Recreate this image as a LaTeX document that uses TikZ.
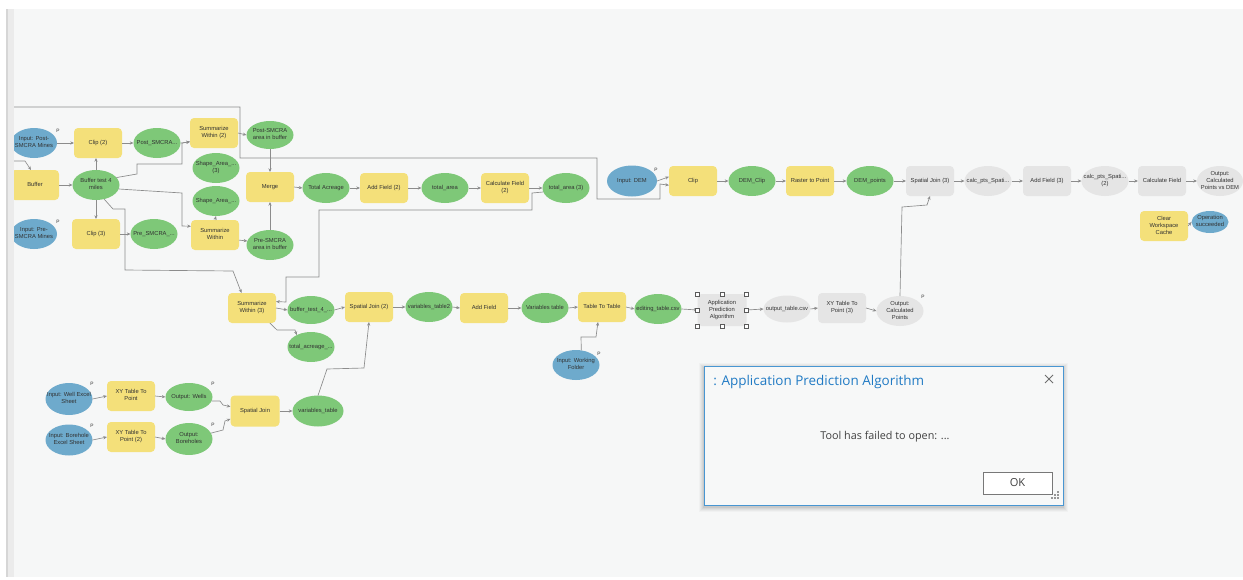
\documentclass[tikz,border=0pt]{standalone}
\usepackage{fontspec}
\setmainfont{Liberation Sans}
\newfontfamily\uifont{Open Sans}
\usetikzlibrary{shapes.geometric,arrows.meta}

\definecolor{panelbg}{RGB}{246,247,247}
\definecolor{stripdark}{RGB}{214,214,214}
\definecolor{striplight}{RGB}{235,235,235}
\definecolor{toolyel}{RGB}{244,224,122}
\definecolor{datagrn}{RGB}{126,200,120}
\definecolor{inblue}{RGB}{110,170,204}
\definecolor{gray1}{RGB}{229,229,229}
\definecolor{txt}{RGB}{50,50,50}
\definecolor{lineg}{RGB}{140,140,140}
\definecolor{handleg}{RGB}{90,90,90}
\definecolor{dlgbg}{RGB}{247,248,248}
\definecolor{dlgblue}{RGB}{72,150,210}
\definecolor{titleblue}{RGB}{32,122,196}
\definecolor{msgc}{RGB}{64,64,64}
\definecolor{okg}{RGB}{120,120,120}
\definecolor{closeg}{RGB}{110,110,110}
\definecolor{gripg}{RGB}{150,150,150}

\newcommand{\nodefnt}{\fontsize{4.35}{5.25}\selectfont}
\newcommand{\pmarkfnt}{\fontsize{3.6}{4}\selectfont}
\newcommand{\ctext}[1]{\makebox[0pt]{\begin{tabular}{@{}c@{}}#1\end{tabular}}}

\tikzset{
  base/.style={inner sep=0pt, outer sep=0pt, font=\nodefnt, text=txt},
  tool/.style={base, rectangle, rounded corners=3pt, fill=toolyel, minimum width=36pt, minimum height=22.5pt},
  gtool/.style={tool, fill=gray1},
  data/.style={base, ellipse, fill=datagrn, minimum width=35.25pt, minimum height=22.5pt},
  gdata/.style={data, fill=gray1},
  inp/.style={data, fill=inblue},
  pmark/.style={font=\pmarkfnt, text=txt, inner sep=0pt},
  conn/.style={draw=lineg, line width=0.5pt, -{Stealth[length=2.8pt,width=2.4pt]}},
  handle/.style={draw=handleg, fill=white, line width=0.4pt},
}

\begin{document}
\begin{tikzpicture}[x=0.75pt,y=-0.75pt]
\useasboundingbox (0,0) rectangle (1243,579);
\fill[white] (0,0) rectangle (1243,579);
\fill[stripdark] (6,9) rectangle (8,577);
\fill[striplight] (8,9) rectangle (14,577);
\fill[panelbg] (14,9) rectangle (1243,577);

\begin{scope}
\clip (14,9) rectangle (1243,577);

% ---- mine areas and buffer ----
\node[inp, minimum width=34.5pt] (inPost) at (34,143) {\ctext{Input: Post-\\SMCRA Mines}};
\node[pmark] (pPost) at (58,131) {P};
\node[tool] (clip2) at (98,143) {\ctext{Clip (2)}};
\node[data] (postS) at (157,143) {\ctext{Post\_SMCRA...}};
\node[tool] (sw2) at (214,133) {\ctext{Summarize\\Within (2)}};
\node[data, minimum height=21pt] (postArea) at (270,135) {\ctext{Post-SMCRA\\area in buffer}};
\node[data] (shape3) at (216,168) {\ctext{Shape\_Area\_...\\(3)}};
\node[tool] (buffer) at (35,185) {\ctext{Buffer}};
\node[data] (buf4) at (96,185) {\ctext{Buffer test 4\\miles}};
\node[tool] (merge) at (270,187) {\ctext{Merge}};
\node[data] (shape) at (216,201) {\ctext{Shape\_Area\_...}};
\node[inp, minimum width=34.5pt] (inPre) at (34,234) {\ctext{Input: Pre-\\SMCRA Mines}};
\node[pmark] (pPre) at (58,222) {P};
\node[tool] (clip3) at (96,234) {\ctext{Clip (3)}};
\node[data] (preS) at (154,234) {\ctext{Pre\_SMCRA\_...}};
\node[tool] (sw) at (215,235) {\ctext{Summarize\\Within}};
\node[data] (preArea) at (270,245) {\ctext{Pre-SMCRA\\area in buffer}};
\node[data] (totAcr) at (326,188) {\ctext{Total Acreage}};
\node[tool] (af2) at (384,188) {\ctext{Add Field (2)}};
\node[data] (totArea) at (445,188) {\ctext{total\_area}};
\node[tool] (cf2) at (505,188) {\ctext{Calculate Field\\(2)}};
\node[data] (totArea3) at (566,188) {\ctext{total\_area (3)}};

% ---- elevation chain ----
\node[inp, minimum width=37.5pt, minimum height=23.25pt] (inDEM) at (632,181) {\ctext{Input: DEM}};
\node[pmark] (pDEM) at (656,170) {P};
\node[tool] (clip) at (693,181) {\ctext{Clip}};
\node[data] (demClip) at (752,181) {\ctext{DEM\_Clip}};
\node[tool] (r2p) at (810,181) {\ctext{Raster to Point}};
\node[data] (demPts) at (870,181) {\ctext{DEM\_points}};
\node[gtool] (sj3) at (930,181) {\ctext{Spatial Join (3)}};
\node[gdata] (calc1) at (988,181) {\ctext{calc\_pts\_Spati...}};
\node[gtool] (af3) at (1047,181) {\ctext{Add Field (3)}};
\node[gdata] (calc2) at (1105,181) {\ctext{calc\_pts\_Spati...\\(2)}};
\node[gtool] (cf) at (1162,181) {\ctext{Calculate Field}};
\node[gdata, minimum width=34.5pt] (outDEM) at (1220,181) {\ctext{Output:\\Calculated\\Points vs DEM}};
\node[tool] (cwc) at (1164,226) {\ctext{Clear\\Workspace\\Cache}};
\node[inp, minimum width=27.75pt, minimum height=16.5pt] (opOK) at (1210,222) {\ctext{Operation\\succeeded}};

% ---- variables table chain ----
\node[tool] (sw3) at (252,308) {\ctext{Summarize\\Within (3)}};
\node[data, minimum height=21pt] (bufT) at (311,310) {\ctext{buffer\_test\_4\_...}};
\node[data] (totAcr2) at (311,347) {\ctext{total\_acreage\_...}};
\node[tool] (sj2) at (369,307) {\ctext{Spatial Join (2)}};
\node[data] (vt2) at (429,307) {\ctext{variables\_table2}};
\node[tool] (af) at (484,308) {\ctext{Add Field}};
\node[data] (vtab) at (545,308) {\ctext{Variables table}};
\node[tool] (t2t) at (602,307) {\ctext{Table To Table}};
\node[data] (edit) at (658,309) {\ctext{editing\_table.csv}};
\node[inp] (inWF) at (576,365) {\ctext{Input: Working\\Folder}};
\node[pmark] (pWF) at (599,354) {P};
\node[gtool, minimum width=36.75pt, minimum height=24pt] (apa) at (722,310) {\ctext{Application\\Prediction\\Algorithm}};
\node[gdata, minimum height=20.25pt] (outTab) at (787,309) {\ctext{output\_table.csv}};
\node[gtool] (xy3) at (842,308) {\ctext{XY Table To\\Point (3)}};
\node[gdata] (outCP) at (900,311) {\ctext{Output:\\Calculated\\Points}};
\node[pmark] (pCP) at (923,297) {P};

% ---- wells and boreholes ----
\node[inp, minimum height=24pt] (inWell) at (69,399) {\ctext{Input: Well Excel\\Sheet}};
\node[pmark] (pWell) at (92,384) {P};
\node[tool] (xy) at (131,396) {\ctext{XY Table To\\Point}};
\node[data, minimum height=21pt] (outW) at (189,397) {\ctext{Output: Wells}};
\node[pmark] (pW) at (213,384) {P};
\node[inp, minimum height=23.25pt] (inBore) at (69,440) {\ctext{Input: Borehole\\Excel Sheet}};
\node[pmark] (pBore) at (92,426) {P};
\node[tool] (xy2) at (131,437) {\ctext{XY Table To\\Point (2)}};
\node[data, minimum height=24pt] (outB) at (189,439) {\ctext{Output:\\Boreholes}};
\node[pmark] (pB) at (213,425) {P};
\node[tool, minimum width=36.75pt, minimum height=23.25pt] (sj) at (255,411) {\ctext{Spatial Join}};
\node[data, minimum width=38.25pt, minimum height=23.25pt] (vt) at (318,411) {\ctext{variables\_table}};

% ---- connectors ----
\coordinate (offA) at (4,107);
\coordinate (offB) at (4,161);
\draw[conn] (offA) -- (240,107) -- (240,158) -- (597,158) -- (597,199) -- (660,199) -- (660,184) -- (clip.190);
\draw[conn] (offB) -- (25,161) -- (buffer.105);
\draw[conn] (inPost.east) -- (clip2.west);
\draw[conn] (clip2.east) -- (postS.west);
\draw[conn] (postS.east) -- (182,143) -- (sw2.200);
\draw[conn] (buf4.20) -- (137,174) -- (137,164) -- (182,164) -- (182,143) -- (sw2.200);
\draw[conn] (buf4.-10) -- (182,193) -- (182,226) -- (sw.160);
\draw[conn] (buf4.north) -- (buf4.north |- clip2.south);
\draw[conn] (buf4.south) -- (clip3.north);
\draw[conn] (buf4.-60) -- (113,209) -- (125,209) -- (125,270) -- (233,271) -- (sw3.125);
\draw[conn] (buffer.east) -- (buf4.west);
\draw[conn] (clip3.east) -- (preS.west);
\draw[conn] (sw2.east) -- (postArea.west);
\draw[conn] (postArea.south) -- (merge.north);
\draw[conn] (preArea.north) -- (merge.south);
\draw[conn] (sw.north) -- (shape.south);
\draw[conn] (sw.-12) -- (preArea.170);
\draw[conn] (merge.east) -- (totAcr.west);
\draw[conn] (totAcr.east) -- (af2.west);
\draw[conn] (af2.east) -- (totArea.west);
\draw[conn] (totArea.east) -- (cf2.west);
\draw[conn] (cf2.east) -- (totArea3.west);
\draw[conn] (totArea3.190) -- (532,193) -- (532,210) -- (319,210) -- (319,277) -- (286,277) -- (286,302) -- (sw3.15);

\draw[conn] (inDEM.east) -- (clip.170);
\draw[conn] (clip.east) -- (demClip.west);
\draw[conn] (demClip.east) -- (r2p.west);
\draw[conn] (r2p.east) -- (demPts.west);
\draw[conn] (demPts.east) -- (sj3.west);
\draw[conn] (sj3.east) -- (calc1.west);
\draw[conn] (calc1.east) -- (af3.west);
\draw[conn] (af3.east) -- (calc2.west);
\draw[conn] (calc2.east) -- (cf.west);
\draw[conn] (cf.east) -- (outDEM.west);
\draw[conn] (cwc.east) -- (opOK.west);

\draw[conn] (sw3.east) -- (bufT.west);
\draw[conn] (sw3.-40) -- (277,330) -- (295,330) -- (totAcr2.140);
\draw[conn] (bufT.east) -- (sj2.west);
\draw[conn] (vt.north) -- (327,369) -- (364,368) -- (sj2.south);
\draw[conn] (sj2.east) -- (vt2.west);
\draw[conn] (vt2.east) -- (af.west);
\draw[conn] (af.east) -- (vtab.west);
\draw[conn] (vtab.east) -- (t2t.west);
\draw[conn] (t2t.east) -- (edit.west);
\draw[conn] (inWF.70) -- (581,337) -- (596,337) -- (t2t.-105);
\draw[conn] (edit.east) -- (apa.west);
\draw[conn] (apa.east) -- (outTab.west);
\draw[conn] (outTab.east) -- (xy3.west);
\draw[conn] (xy3.east) -- (outCP.west);
\draw[conn] (outCP.north) -- (902,207) -- (927,205) -- (sj3.south);

\draw[conn] (inWell.east) -- (xy.west);
\draw[conn] (xy.east) -- (outW.west);
\draw[conn] (outW.-10) -- (220,401) -- (223,405) -- (sj.170);
\draw[conn] (inBore.east) -- (xy2.west);
\draw[conn] (xy2.east) -- (outB.west);
\draw[conn] (outB.15) -- (223,430) -- (225,421) -- (sj.198);
\draw[conn] (sj.east) -- (vt.west);

% selection handles on the selected tool
\foreach \a in {north west,north,north east,west,east,south west,south,south east}
  \draw[handle] (apa.\a) ++(-2,-2) rectangle ++(4,4);
\end{scope}

% ---- message dialog ----
\foreach \d/\o in {5/0.025,4/0.03,3/0.035,2/0.045,1/0.06}
  \fill[black, opacity=\o] (704-\d,366-\d+1.5) rectangle (1063+\d,505+\d+1.5);
\node[fill=dlgbg, draw=dlgblue, line width=0.75pt, minimum width=269.25pt, minimum height=104.25pt, inner sep=0pt] (dlg) at (883.5,435.5) {};
\node[anchor=base west, inner sep=0pt, text=titleblue, font=\uifont\fontsize{10.1}{12}\selectfont] (dlgTitle) at (713,385) {: Application Prediction Algorithm};
\draw[closeg, line width=0.6pt] (1045,375) -- (1053,383) (1045,383) -- (1053,375);
\node[anchor=base, inner sep=0pt, text=msgc, font=\uifont\fontsize{8.1}{10}\selectfont] (dlgMsg) at (885,439) {Tool has failed to open: ...};
\node[draw=okg, fill=white, line width=0.75pt, minimum width=51.75pt, minimum height=16.5pt, inner sep=0pt, text=msgc, font=\uifont\fontsize{8.3}{10}\selectfont] (okBtn) at (1017.5,483) {OK};
\foreach \gx/\gy in {1058/492,1055/495,1058/495,1052/498,1055/498,1058/498}
  \fill[gripg] (\gx-0.7,\gy-0.7) rectangle ++(1.4,1.4);
\end{tikzpicture}
\end{document}
